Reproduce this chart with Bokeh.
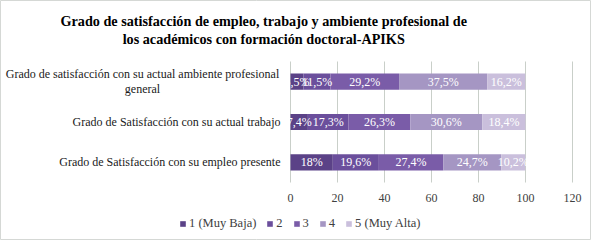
from bokeh.plotting import figure
from bokeh.models import ColumnDataSource, Range1d, Legend, LegendItem
from bokeh.core.properties import value
from bokeh.embed import file_html
from bokeh.resources import INLINE

title_lines = ["Grado de satisfacción de empleo, trabajo  y ambiente profesional de",
               "los académicos con formación  doctoral-APIKS"]
categories = ["Grado de Satisfacción con su empleo presente",
              "Grado de Satisfacción con su actual trabajo",
              "Grado de satisfacción con su actual ambiente profesional\ngeneral"]
levels = ["1 (Muy Baja)", "2", "3", "4", "5 (Muy Alta)"]
s1 = [18.0, 7.4, 5.5]
s2 = [19.6, 17.3, 11.5]
s3 = [27.4, 26.3, 29.2]
s4 = [24.7, 30.6, 37.5]
s5 = [10.2, 18.4, 16.2]
x_ticks = [0, 20, 40, 60, 80, 100, 120]
colors = ["#5b4287", "#6b4f9c", "#7a5ca8", "#a596c3", "#cabfdc"]

FONT = "Liberation Serif"

# ---- layout of the canvas (pixels) ----
W, H = 591, 240
PLOT_L, PLOT_R = 290, 572      # pixel x of value 0 and of the last tick
PLOT_T, PLOT_B = 61, 182       # pixel y of the top and bottom of the bar area
n = len(categories)
xmax = x_ticks[-1]
sx = (PLOT_R - PLOT_L) / xmax
sy = (PLOT_B - PLOT_T) / n
x_range = Range1d(-PLOT_L / sx, xmax + (W - PLOT_R) / sx)
y_range = Range1d(-(H - PLOT_B) / sy, n + PLOT_T / sy)


def Y(py):  # canvas pixel row -> data y
    return n + (PLOT_T - py) / sy


series = [s1, s2, s3, s4, s5]
keys = ["s1", "s2", "s3", "s4", "s5"]
ypos = [i + 0.5 for i in range(n)]
data = {"y": ypos}
for k, s in zip(keys, series):
    data[k] = s
src = ColumnDataSource(data)

p = figure(width=W, height=H, output_backend="svg", toolbar_location=None,
           x_range=x_range, y_range=y_range, min_border=0)
p.axis.visible = False
p.grid.visible = False
p.title.visible = False
p.outline_line_color = "#d5d8d5"
p.outline_line_width = 1

# vertical grid lines across the bar area only
p.segment(x0=x_ticks, y0=[0] * len(x_ticks), x1=x_ticks, y1=[n] * len(x_ticks),
          line_color="#c9cfc9", line_width=1)

rs = p.hbar_stack(keys, y="y", height=0.4, color=colors, source=src, line_color=None)

# value labels in each segment
cx, cy, ct = [], [], []
for i in range(n):
    acc = 0.0
    for s in series:
        v = s[i]
        cx.append(acc + v / 2)
        cy.append(ypos[i])
        ct.append(f"{v:g}".replace(".", ",") + "%")
        acc += v
p.text(x=cx, y=cy, text=ct, text_align="center", text_baseline="middle",
       text_color="white", text_font=value(FONT), text_font_size="12px")

# x tick labels
p.text(x=x_ticks, y=[Y(197)] * len(x_ticks), text=[str(t) for t in x_ticks],
       text_align="center", text_baseline="middle", text_color="#404040",
       text_font=value(FONT), text_font_size="12px")

# category labels
single = [i for i, c in enumerate(categories) if "\n" not in c]
multi = [i for i, c in enumerate(categories) if "\n" in c]
p.text(x=[0] * len(single), y=[ypos[i] for i in single], text=[categories[i] for i in single],
       x_offset=-10, text_align="right", text_baseline="middle", text_color="#1a1a1a",
       text_font=value(FONT), text_font_size="12px")
p.text(x=[0] * len(multi), y=[ypos[i] for i in multi], text=[categories[i] for i in multi],
       x_offset=-148, text_align="center", text_baseline="middle", text_color="#1a1a1a",
       text_font=value(FONT), text_font_size="12px", text_line_height=1.1)

# title
p.text(x=[0, 0], y=[Y(20), Y(38)], text=title_lines, x_offset=-25,
       text_align="center", text_baseline="middle", text_color="#000000",
       text_font=value(FONT), text_font_size="14.2px", text_font_style="bold")

legend = Legend(items=[LegendItem(label=l, renderers=[r]) for l, r in zip(levels, rs)],
                orientation="horizontal", location=(179, H - 231),
                glyph_width=7, glyph_height=7, label_standoff=3, spacing=10,
                label_width=0, padding=0, margin=0, border_line_color=None,
                background_fill_alpha=0,
                label_text_font=FONT, label_text_font_size="12.5px", label_text_color="#404040",
                label_height=12)
p.add_layout(legend)

open("out.html", "w").write(file_html(p, INLINE))
